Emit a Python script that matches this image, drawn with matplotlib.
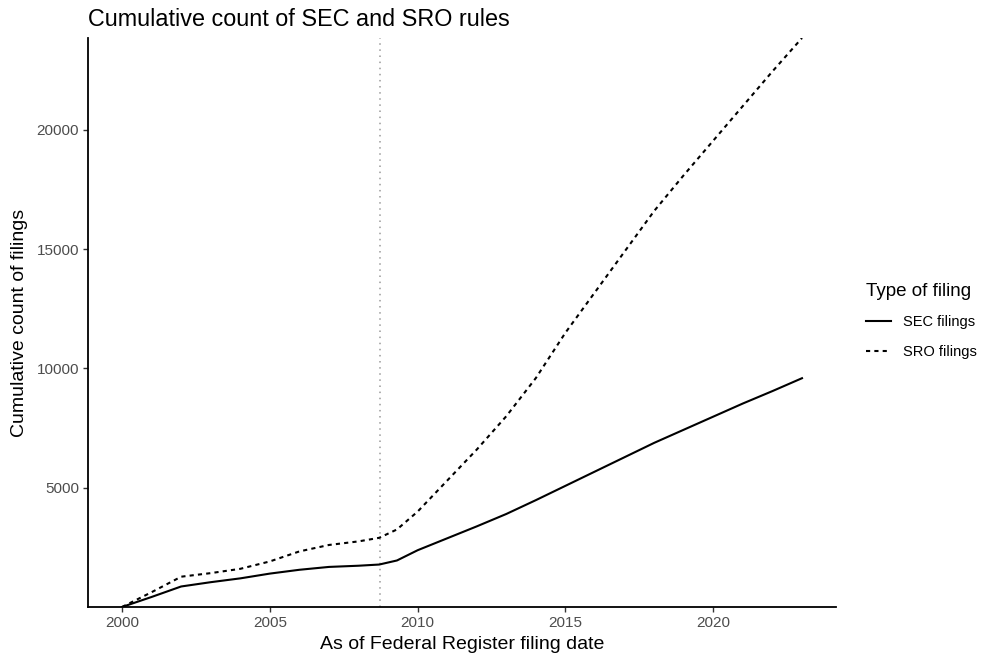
import matplotlib
matplotlib.use("Agg")
import matplotlib.pyplot as plt

plt.rcParams['font.family'] = ['Liberation Sans', 'DejaVu Sans']

# cumulative counts (decimal years)
sec_years = [2000, 2001, 2002, 2003, 2004, 2005, 2006, 2007, 2008, 2008.7,
             2009.3, 2010, 2011, 2012, 2013, 2014, 2015, 2016, 2017, 2018,
             2019, 2020, 2021, 2022, 2023]
sec_counts = [0, 420, 860, 1040, 1200, 1400, 1560, 1680, 1730, 1780,
              1950, 2380, 2880, 3380, 3900, 4480, 5080, 5680, 6280, 6880,
              7430, 7980, 8530, 9050, 9590]

sro_years = sec_years
sro_counts = [0, 620, 1270, 1420, 1600, 1910, 2330, 2600, 2750, 2900,
              3250, 4000, 5300, 6600, 8000, 9600, 11500, 13200, 14900, 16600,
              18100, 19550, 21000, 22450, 23850]

event_year = 2008.71
x_ticks = [2000, 2005, 2010, 2015, 2020]
y_ticks = [5000, 10000, 15000, 20000]

fig = plt.figure(figsize=(9.84, 6.57), dpi=100)
ax = fig.add_axes([88 / 984, 50 / 657, (836 - 88) / 984, (607 - 38) / 657])

ax.axvline(event_year, color='#9a9a9a', lw=1.1, linestyle=(0, (1, 3)), zorder=1)
ax.plot(sec_years, sec_counts, color='black', lw=1.5, label='SEC filings', zorder=3)
ax.plot(sro_years, sro_counts, color='black', lw=1.5, linestyle=(0, (2, 2)),
        label='SRO filings', zorder=3)

ax.set_xlim(1998.85, 2024.15)
ax.set_ylim(0, 23850)
ax.set_xticks(x_ticks)
ax.set_yticks(y_ticks)

for side in ['top', 'right']:
    ax.spines[side].set_visible(False)
for side in ['left', 'bottom']:
    ax.spines[side].set_linewidth(1.3)
    ax.spines[side].set_color('black')
ax.tick_params(axis='both', length=3.5, width=1.0, color='#333333',
               labelsize=11, labelcolor='#4d4d4d', pad=3)

ax.set_xlabel('As of Federal Register filing date', fontsize=14, labelpad=4)
ax.set_ylabel('Cumulative count of filings', fontsize=14, labelpad=6)
ax.set_title('Cumulative count of SEC and SRO rules', fontsize=16.8, loc='left',
             x=0.0, pad=9)

leg = ax.legend(title='Type of filing', loc='upper left',
                bbox_to_anchor=(853 / 984, 1 - 270 / 657),
                bbox_transform=fig.transFigure, frameon=False,
                fontsize=10.5, title_fontsize=13.5, handlelength=1.7,
                labelspacing=1.05, handletextpad=0.8)
leg._legend_box.align = 'left'

fig.savefig('out.png', dpi=100, facecolor='white')
